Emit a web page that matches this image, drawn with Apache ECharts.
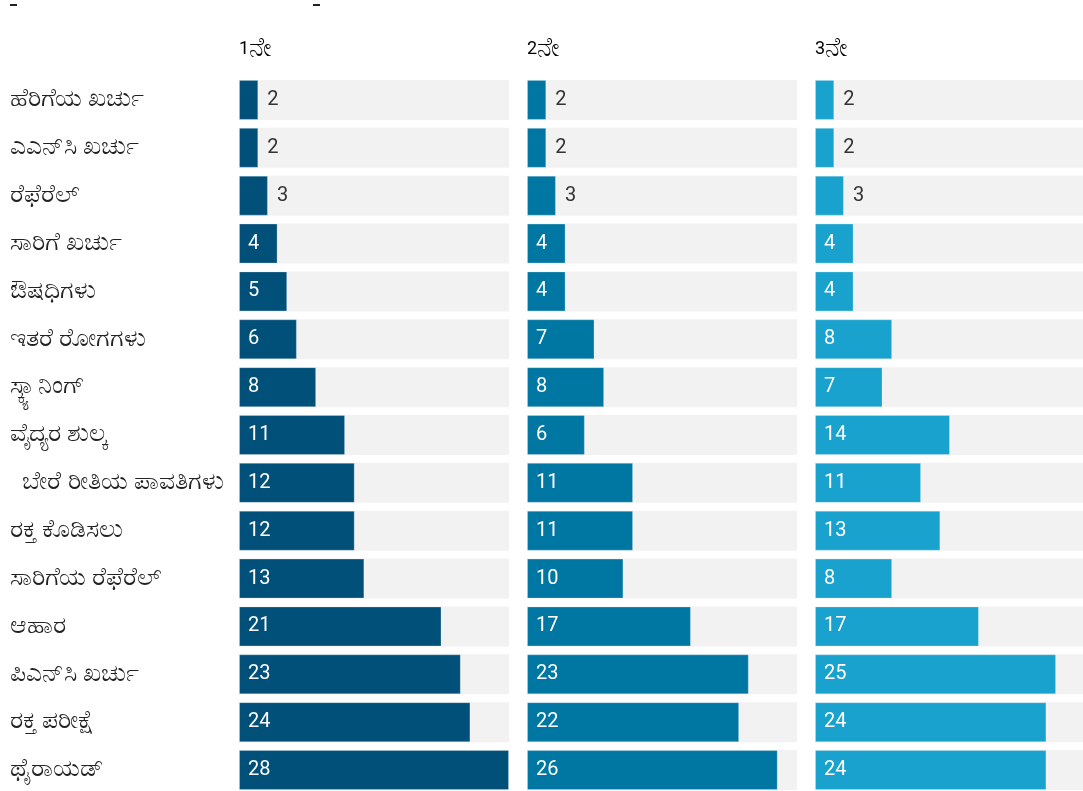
<!DOCTYPE html>
<html>
<head>
<meta charset="utf-8">
<script src="https://cdn.jsdelivr.net/npm/echarts@6/dist/echarts.min.js"></script>
<style>html,body{margin:0;padding:0;background:#fff}#c{width:1083px;height:791px}</style>
</head>
<body>
<div id="c"></div>
<script>
const categories = ['ಹೆರಿಗೆಯ ಖರ್ಚು','ಎಎನ್‌ಸಿ ಖರ್ಚು','ರೆಫೆರೆಲ್','ಸಾರಿಗೆ ಖರ್ಚು','ಔಷಧಿಗಳು','ಇತರೆ ರೋಗಗಳು','ಸ್ಕ್ಯಾನಿಂಗ್','ವೈದ್ಯರ ಶುಲ್ಕ','  ಬೇರೆ ರೀತಿಯ ಪಾವತಿಗಳು','ರಕ್ತ ಕೊಡಿಸಲು','ಸಾರಿಗೆಯ ರೆಫೆರೆಲ್','ಆಹಾರ','ಪಿಎನ್‌ಸಿ ಖರ್ಚು','ರಕ್ತ ಪರೀಕ್ಷೆ','ಥೈರಾಯಡ್'];
const panelNums = ['1','2','3'];
const panelSuffix = 'ನೇ';
const first = [2,2,3,4,5,6,8,11,12,12,13,21,23,24,28];
const second = [2,2,3,4,4,7,8,6,11,11,10,17,23,22,26];
const third = [2,2,3,4,4,8,7,14,11,13,8,17,25,24,24];
const seriesValues = [first, second, third];
const colors = ['#00507a','#0077a3','#19a2cd'];
const lefts = [239, 527, 815];
const FONT = "Roboto, 'Noto Sans', sans-serif";

const grids = [], xAxes = [], yAxes = [], series = [], graphics = [];
lefts.forEach((l, i) => {
  grids.push({left: l, top: 76, width: 270, height: 718, outerBoundsMode: 'none', containLabel: false});
  xAxes.push({gridIndex: i, type: 'value', min: 0, max: 28, show: false});
  yAxes.push({
    gridIndex: i, type: 'category', data: categories, inverse: true,
    axisLine: {show: false}, axisTick: {show: false}, splitLine: {show: false},
    axisLabel: i === 0 ? {show: true, align: 'left', margin: 229, fontSize: 25, color: '#222', fontFamily: FONT} : {show: false}
  });
  series.push({
    type: 'bar', xAxisIndex: i, yAxisIndex: i, barWidth: 40,
    showBackground: true, backgroundStyle: {color: '#f2f2f2'},
    itemStyle: {color: colors[i], borderColor: 'rgba(255,255,255,0.25)', borderWidth: 1},
    data: seriesValues[i].map(v => ({
      value: v,
      label: v <= 3
        ? {show: true, position: 'right', distance: 9, color: '#333'}
        : {show: true, position: 'insideLeft', distance: 9, color: '#fff'}
    })),
    label: {fontSize: 20, fontFamily: FONT},
    silent: true
  });
  graphics.push({type: 'text', left: l, top: 36, style: {
    text: '{n|' + panelNums[i] + '}{k|' + panelSuffix + '}',
    rich: {n: {fontSize: 18, fontFamily: FONT, color: '#222'}, k: {fontSize: 26, fontFamily: FONT, color: '#222'}}
  }});
});
graphics.push({type: 'rect', shape: {x: 10, y: 4, width: 7, height: 2}, style: {fill: '#222'}});
graphics.push({type: 'rect', shape: {x: 313, y: 4, width: 7, height: 2}, style: {fill: '#222'}});

const chart = echarts.init(document.getElementById('c'), null, {renderer: 'canvas'});
chart.setOption({
  animation: false,
  textStyle: {fontFamily: FONT},
  grid: grids, xAxis: xAxes, yAxis: yAxes, series: series, graphic: graphics
});
</script>
</body>
</html>
